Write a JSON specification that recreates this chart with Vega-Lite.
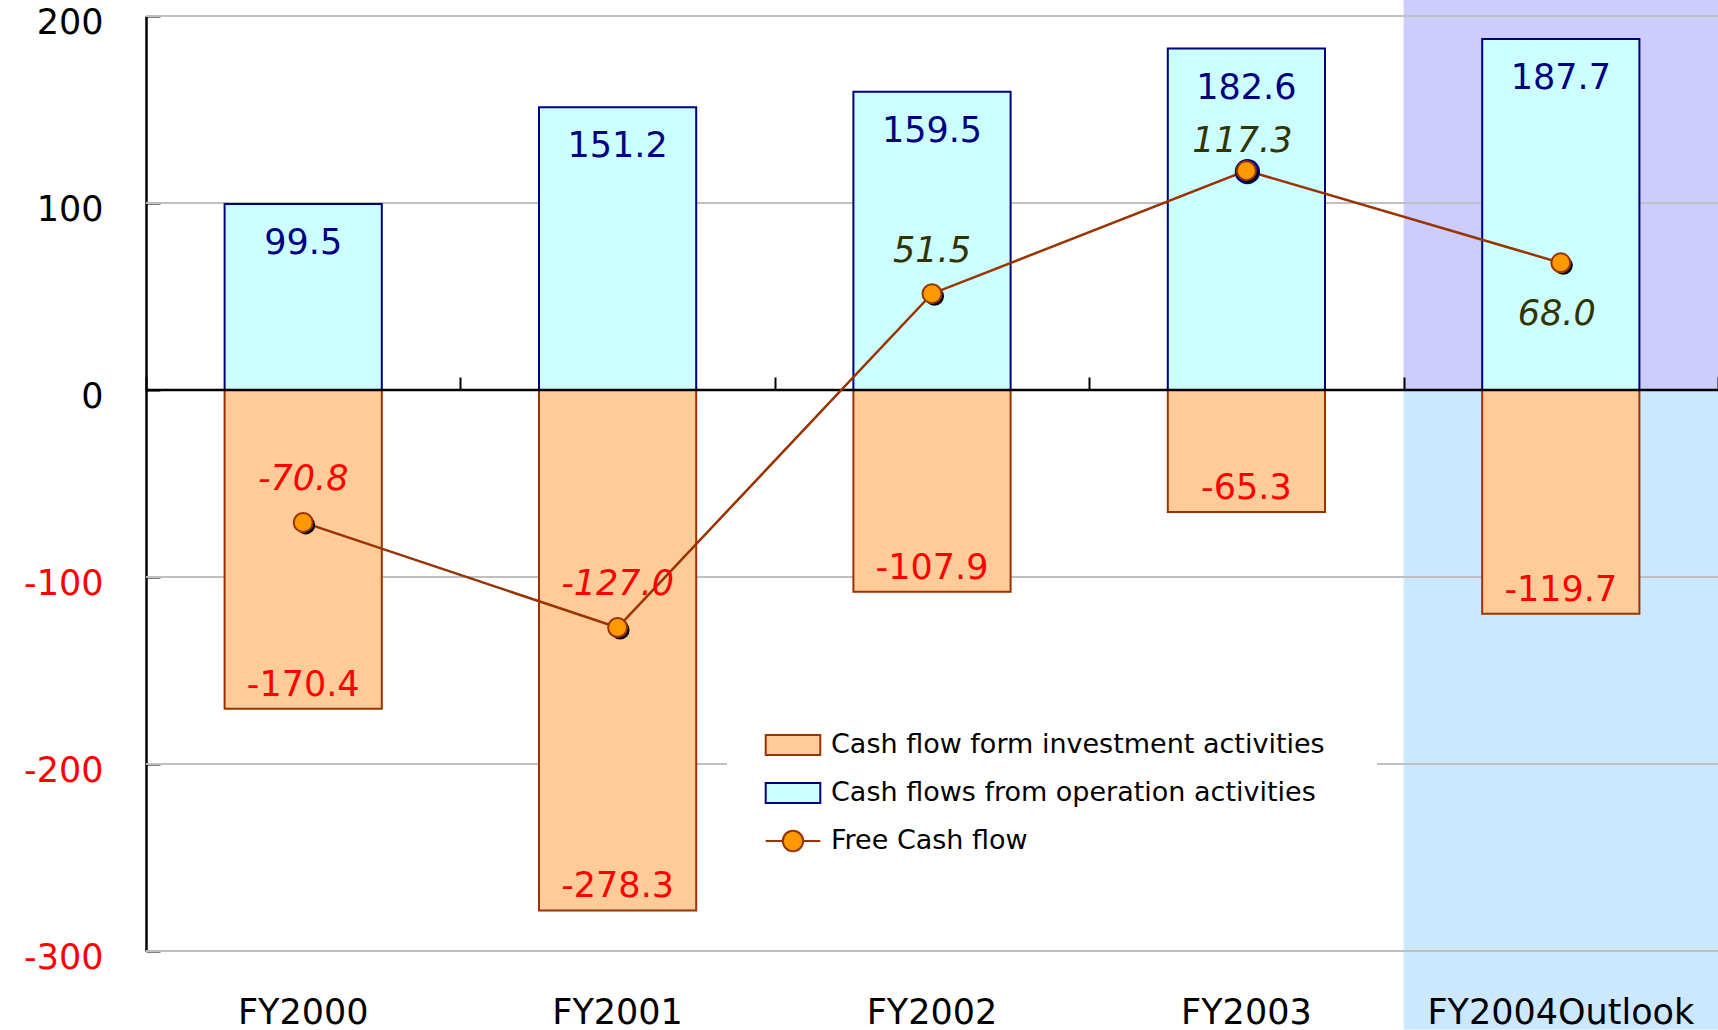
{
  "$schema": "https://vega.github.io/schema/vega-lite/v6.json",
  "width": 1572,
  "height": 935,
  "padding": {"left": 23, "top": 0, "right": 0, "bottom": 0},
  "background": "white",
  "config": {
    "view": {"stroke": null},
    "font": "DejaVu Sans",
    "locale": {"number": {"decimal": ".", "thousands": ",", "grouping": [3], "currency": ["$", ""], "minus": "-"}},
    "axisY": {
      "grid": false, "domain": true, "domainColor": "black", "domainWidth": 2.5,
      "ticks": true, "tickColor": "black", "tickWidth": 2, "tickSize": -14,
      "labelFontSize": 35, "labelPadding": 57, "labelOffset": 6, "labelBaseline": "middle", "zindex": 2
    }
  },
  "datasets": {
    "cash": [
      {"year": "FY2000", "series": "Cash flows  from operation activities", "value": 99.5},
      {"year": "FY2001", "series": "Cash flows  from operation activities", "value": 151.2},
      {"year": "FY2002", "series": "Cash flows  from operation activities", "value": 159.5},
      {"year": "FY2003", "series": "Cash flows  from operation activities", "value": 182.6},
      {"year": "FY2004Outlook", "series": "Cash flows  from operation activities", "value": 187.7},
      {"year": "FY2000", "series": "Cash flow form investment activities", "value": -170.4},
      {"year": "FY2001", "series": "Cash flow form investment activities", "value": -278.3},
      {"year": "FY2002", "series": "Cash flow form investment activities", "value": -107.9},
      {"year": "FY2003", "series": "Cash flow form investment activities", "value": -65.3},
      {"year": "FY2004Outlook", "series": "Cash flow form investment activities", "value": -119.7},
      {"year": "FY2000", "series": "Free Cash flow", "value": -70.8},
      {"year": "FY2001", "series": "Free Cash flow", "value": -127.0},
      {"year": "FY2002", "series": "Free Cash flow", "value": 51.5},
      {"year": "FY2003", "series": "Free Cash flow", "value": 117.3},
      {"year": "FY2004Outlook", "series": "Free Cash flow", "value": 68.0}
    ],
    "levels": [
      {"level": 200}, {"level": 100}, {"level": 0}, {"level": -100}, {"level": -200}, {"level": -300}
    ],
    "outlook": [{"year": "FY2004Outlook"}]
  },
  "resolve": {"scale": {"x": "independent"}},
  "layer": [
    {
      "data": {"name": "outlook"},
      "encoding": {
        "x": {
          "field": "year", "type": "nominal",
          "scale": {"domain": ["FY2000", "FY2001", "FY2002", "FY2003", "FY2004Outlook"], "paddingInner": 0, "paddingOuter": 0},
          "axis": {"orient": "top", "offset": -374, "title": null, "labels": false, "domain": false, "grid": false,
                   "ticks": true, "tickBand": "extent", "tickSize": 13, "tickColor": "black", "tickWidth": 2, "zindex": 2}
        }
      },
      "layer": [
        {
          "mark": {"type": "bar", "fill": "#CCCCFF"},
          "encoding": {
            "y": {"datum": 208.5, "type": "quantitative", "scale": {"domain": [-300, 200], "nice": false, "zero": false},
                  "axis": {"title": null, "values": [-300, -200, -100, 0, 100, 200],
                           "labelColor": {"condition": {"test": "datum.value < 0", "value": "#FF0000"}, "value": "black"}}},
            "y2": {"datum": 0}
          }
        },
        {
          "mark": {"type": "bar", "fill": "#CCE8FF"},
          "encoding": {
            "y": {"datum": 0, "type": "quantitative", "scale": {"domain": [-300, 200], "nice": false, "zero": false},
                  "axis": {"title": null, "values": [-300, -200, -100, 0, 100, 200],
                           "labelColor": {"condition": {"test": "datum.value < 0", "value": "#FF0000"}, "value": "black"}}},
            "y2": {"datum": -342}
          }
        }
      ]
    },
    {
      "data": {"name": "levels"},
      "transform": [{"filter": "datum.level !== 0"}],
      "mark": {"type": "rule", "color": "#C0C0C0", "strokeWidth": 2},
      "encoding": {
        "y": {"field": "level", "type": "quantitative", "scale": {"domain": [-300, 200], "nice": false, "zero": false},
              "axis": {"title": null, "values": [-300, -200, -100, 0, 100, 200],
                       "labelColor": {"condition": {"test": "datum.value < 0", "value": "#FF0000"}, "value": "black"}}}
      }
    },
    {
      "data": {"name": "cash"},
      "transform": [{"filter": "datum.series !== 'Free Cash flow'"}],
      "encoding": {
        "x": {
          "field": "year", "type": "nominal",
          "scale": {"domain": ["FY2000", "FY2001", "FY2002", "FY2003", "FY2004Outlook"], "paddingInner": 0.5, "paddingOuter": 0.25},
          "axis": {"title": null, "ticks": false, "tickSize": 0, "domain": false, "grid": false, "labelAngle": 0, "labelLimit": 0,
                   "labelFontSize": 35, "labelColor": "black", "labelPadding": 44, "zindex": 2}
        },
        "y": {"field": "value", "type": "quantitative", "scale": {"domain": [-300, 200], "nice": false, "zero": false},
              "axis": {"title": null, "values": [-300, -200, -100, 0, 100, 200],
                       "labelColor": {"condition": {"test": "datum.value < 0", "value": "#FF0000"}, "value": "black"}}}
      },
      "layer": [
        {
          "mark": {"type": "bar", "strokeWidth": 2},
          "encoding": {
            "y2": {"datum": 0},
            "fill": {
              "field": "series", "type": "nominal",
              "scale": {"domain": ["Cash flow form investment activities", "Cash flows  from operation activities", "Free Cash flow"],
                        "range": ["#FFCC99", "#CCFFFF", "#FF9900"]},
              "legend": {
                "orient": "none", "legendX": 581, "legendY": 663, "title": null,
                "fillColor": "white", "padding": 52, "zindex": 2,
                "labelFontSize": 27, "labelColor": "black", "labelLimit": 0, "labelOffset": 24,
                "symbolSize": 676, "symbolStrokeWidth": 2, "rowPadding": 18,
                "symbolType": "M-2.1,-0.77H2.1V0.77H-2.1Z",
                "encode": {
                  "symbols": {
                    "update": {
                      "shape": [
                        {"test": "datum.value === 'Free Cash flow'", "value": "M-2.1,0H-0.78M0.78,0H2.1M-0.78,0A0.78,0.78 0 1,1 0.78,0A0.78,0.78 0 1,1 -0.78,0Z"},
                        {"value": "M-2.1,-0.77H2.1V0.77H-2.1Z"}
                      ],
                      "stroke": [
                        {"test": "datum.value === 'Cash flows  from operation activities'", "value": "#000080"},
                        {"value": "#993300"}
                      ]
                    }
                  }
                }
              }
            },
            "stroke": {
              "field": "series", "type": "nominal",
              "scale": {"domain": ["Cash flow form investment activities", "Cash flows  from operation activities", "Free Cash flow"],
                        "range": ["#993300", "#000080", "#993300"]},
              "legend": null
            }
          }
        },
        {
          "transform": [{"filter": "datum.value > 0"}],
          "mark": {"type": "text", "fontSize": 35, "baseline": "middle", "align": "center", "dy": 39, "color": "#000080"},
          "encoding": {
            "text": {"field": "value", "type": "quantitative", "format": ".1f"}
          }
        },
        {
          "transform": [{"filter": "datum.value < 0"}],
          "mark": {"type": "text", "fontSize": 35, "baseline": "middle", "align": "center", "dy": -24, "color": "#FF0000"},
          "encoding": {
            "text": {"field": "value", "type": "quantitative", "format": ".1f"}
          }
        }
      ]
    },
    {
      "data": {"name": "levels"},
      "transform": [{"filter": "datum.level === 0"}],
      "mark": {"type": "rule", "color": "black", "strokeWidth": 2.5},
      "encoding": {
        "y": {"field": "level", "type": "quantitative", "scale": {"domain": [-300, 200], "nice": false, "zero": false},
              "axis": {"title": null, "values": [-300, -200, -100, 0, 100, 200],
                       "labelColor": {"condition": {"test": "datum.value < 0", "value": "#FF0000"}, "value": "black"}}}
      }
    },
    {
      "data": {"name": "cash"},
      "transform": [{"filter": "datum.series === 'Free Cash flow'"}],
      "encoding": {
        "x": {
          "field": "year", "type": "nominal",
          "scale": {"domain": ["FY2000", "FY2001", "FY2002", "FY2003", "FY2004Outlook"], "paddingInner": 0.5, "paddingOuter": 0.25},
          "axis": null
        },
        "y": {"field": "value", "type": "quantitative", "scale": {"domain": [-300, 200], "nice": false, "zero": false},
              "axis": {"title": null, "values": [-300, -200, -100, 0, 100, 200],
                       "labelColor": {"condition": {"test": "datum.value < 0", "value": "#FF0000"}, "value": "black"}}}
      },
      "layer": [
        {"mark": {"type": "line", "color": "#993300", "strokeWidth": 2.5}},
        {
          "transform": [{"filter": "datum.year === 'FY2003'"}],
          "mark": {"type": "circle", "fill": "#000080", "size": 640, "opacity": 1, "xOffset": 1, "yOffset": 1}
        },
        {"mark": {"type": "circle", "fill": "#000000", "size": 360, "opacity": 1, "xOffset": 2.5, "yOffset": 2.5}},
        {"mark": {"type": "circle", "fill": "#FF9900", "stroke": "#993300", "strokeWidth": 2, "size": 360, "opacity": 1}},
        {
          "transform": [{"filter": "datum.year === 'FY2000' || datum.year === 'FY2001' || datum.year === 'FY2002'"}],
          "mark": {"type": "text", "fontSize": 35, "fontStyle": "italic", "baseline": "middle", "align": "center", "dy": -43},
          "encoding": {
            "text": {"field": "value", "type": "quantitative", "format": ".1f"},
            "color": {"condition": {"test": "datum.value < 0", "value": "#FF0000"}, "value": "#333300"}
          }
        },
        {
          "transform": [{"filter": "datum.year === 'FY2003'"}],
          "mark": {"type": "text", "fontSize": 35, "fontStyle": "italic", "baseline": "middle", "align": "center", "dy": -30, "dx": -4},
          "encoding": {
            "text": {"field": "value", "type": "quantitative", "format": ".1f"},
            "color": {"condition": {"test": "datum.value < 0", "value": "#FF0000"}, "value": "#333300"}
          }
        },
        {
          "transform": [{"filter": "datum.year === 'FY2004Outlook'"}],
          "mark": {"type": "text", "fontSize": 35, "fontStyle": "italic", "baseline": "middle", "align": "center", "dy": 51, "dx": -4},
          "encoding": {
            "text": {"field": "value", "type": "quantitative", "format": ".1f"},
            "color": {"condition": {"test": "datum.value < 0", "value": "#FF0000"}, "value": "#333300"}
          }
        }
      ]
    }
  ]
}
